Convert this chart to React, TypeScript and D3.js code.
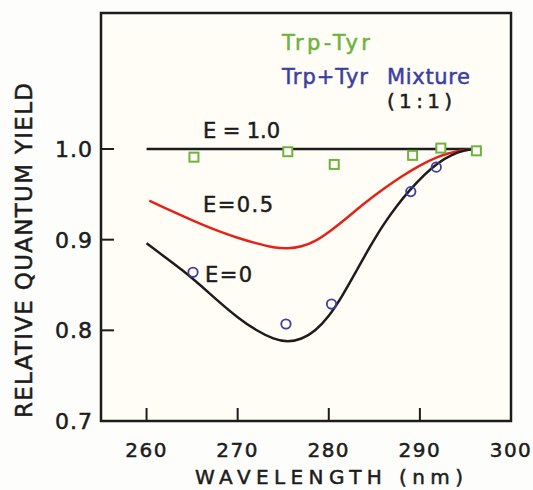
import React from "react";
import * as d3 from "d3";

const xTicks = [260, 270, 280, 290, 300];
const yTicks = [0.7, 0.8, 0.9, 1.0];
const yTickLabels = ["0.7", "0.8", "0.9", "1.0"];

const curveE1: [number, number][] = [[260, 1.0], [296, 1.0]];
const curveE05: [number, number][] = [
  [260.3, 0.943], [262, 0.935], [264, 0.926], [266, 0.917], [268, 0.909], [270, 0.902],
  [272, 0.896], [274, 0.891], [275.5, 0.890], [277, 0.892], [278.5, 0.898], [280, 0.908],
  [282, 0.924], [284, 0.941], [286, 0.956], [288, 0.970], [290, 0.982], [292, 0.992],
  [294, 0.998], [296, 1.0],
];
const curveE0: [number, number][] = [
  [260, 0.896], [262, 0.881], [264, 0.866], [266, 0.849], [268, 0.831], [270, 0.814],
  [272, 0.800], [274, 0.790], [275.5, 0.787], [277, 0.790], [278.5, 0.799], [280, 0.815],
  [281.5, 0.838], [283, 0.865], [284.5, 0.892], [286, 0.917], [287.5, 0.938], [289, 0.956],
  [290.5, 0.972], [292, 0.985], [293.5, 0.994], [295, 0.999], [296, 1.0],
];
const trpTyr: [number, number][] = [
  [265.2, 0.991], [275.5, 0.997], [280.6, 0.983], [289.2, 0.993], [292.3, 1.001], [296.2, 0.998],
];
const mixture: [number, number][] = [
  [265.1, 0.864], [275.3, 0.807], [280.3, 0.829], [289, 0.953], [291.8, 0.980],
];

const W = 533, H = 490;
const left = 101, right = 511, top = 13, bottom = 421;

export default function App() {
  const x = d3.scaleLinear().domain([255, 300]).range([left, right]);
  const y = d3.scaleLinear().domain([0.7, 1.15]).range([bottom, top]);
  const line = d3.line<[number, number]>().x(d => x(d[0])).y(d => y(d[1])).curve(d3.curveBasis);
  const font = "'DejaVu Sans', sans-serif";
  const green = "#6cb33f", blue = "#3b3fa3", red = "#e2231a", ink = "#1c1c1c";
  const bold = (c: string) => ({ fill: c, stroke: c, strokeWidth: 0.5 });
  return (
    <svg width={W} height={H} style={{ position: "absolute", left: 0, top: 0, background: "#fdfdfb" }} fontFamily={font}>
      <rect x={left} y={top} width={right - left} height={bottom - top} fill="#fffdf6" />
      {xTicks.slice(0, 4).map(t => (
        <line key={"xt" + t} x1={x(t)} x2={x(t)} y1={bottom} y2={bottom - 13} stroke={ink} strokeWidth={2} />
      ))}
      {yTicks.slice(1).map(t => (
        <line key={"yt" + t} x1={left} x2={left + 13} y1={y(t)} y2={y(t)} stroke={ink} strokeWidth={2} />
      ))}
      {xTicks.map(t => (
        <text key={"xl" + t} x={x(t)} y={457} textAnchor="middle" fontSize={20} letterSpacing={1.5} {...bold(ink)}>{t}</text>
      ))}
      {yTicks.map((t, i) => (
        <text key={"yl" + t} x={93} y={y(t) + 8} textAnchor="end" fontSize={22} letterSpacing={1} {...bold(ink)}>{yTickLabels[i]}</text>
      ))}
      <rect x={left} y={top} width={right - left} height={bottom - top} fill="none" stroke={ink} strokeWidth={2.5} />
      <path d={line(curveE1) || ""} fill="none" stroke={ink} strokeWidth={2.5} />
      <path d={line(curveE05) || ""} fill="none" stroke={red} strokeWidth={2.5} />
      <path d={line(curveE0) || ""} fill="none" stroke={ink} strokeWidth={2.5} />
      {trpTyr.map((d, i) => (
        <rect key={"sq" + i} x={x(d[0]) - 4.5} y={y(d[1]) - 4.5} width={9} height={9} fill="#fffdf6" stroke={green} strokeWidth={2} />
      ))}
      {mixture.map((d, i) => (
        <circle key={"c" + i} cx={x(d[0])} cy={y(d[1])} r={4.7} fill="none" stroke={blue} strokeWidth={1.8} />
      ))}
      <text x={203} y={138} fontSize={21} textLength={77} lengthAdjust="spacing" {...bold(ink)}>E = 1.0</text>
      <text x={203} y={212} fontSize={21} textLength={70} lengthAdjust="spacing" {...bold(ink)}>E=0.5</text>
      <text x={205} y={282} fontSize={21} textLength={47} lengthAdjust="spacing" {...bold(ink)}>E=0</text>
      <text x={282} y={50} fontSize={21} textLength={88} lengthAdjust="spacing" {...bold(green)}>Trp-Tyr</text>
      <text x={282} y={84} fontSize={21} {...bold(blue)}>
        <tspan x={282} textLength={86} lengthAdjust="spacing">Trp+Tyr</tspan>
        <tspan x={387} textLength={83} lengthAdjust="spacing">Mixture</tspan>
      </text>
      <text x={387} y={108} fontSize={20} textLength={65} lengthAdjust="spacing" {...bold(ink)}>(1:1)</text>
      <text x={195} y={484} fontSize={20} textLength={268} lengthAdjust="spacing" {...bold(ink)}>WAVELENGTH (nm)</text>
      <text transform="translate(32,418) rotate(-90)" fontSize={23} textLength={335} lengthAdjust="spacing" {...bold(ink)}>RELATIVE QUANTUM YIELD</text>
    </svg>
  );
}
